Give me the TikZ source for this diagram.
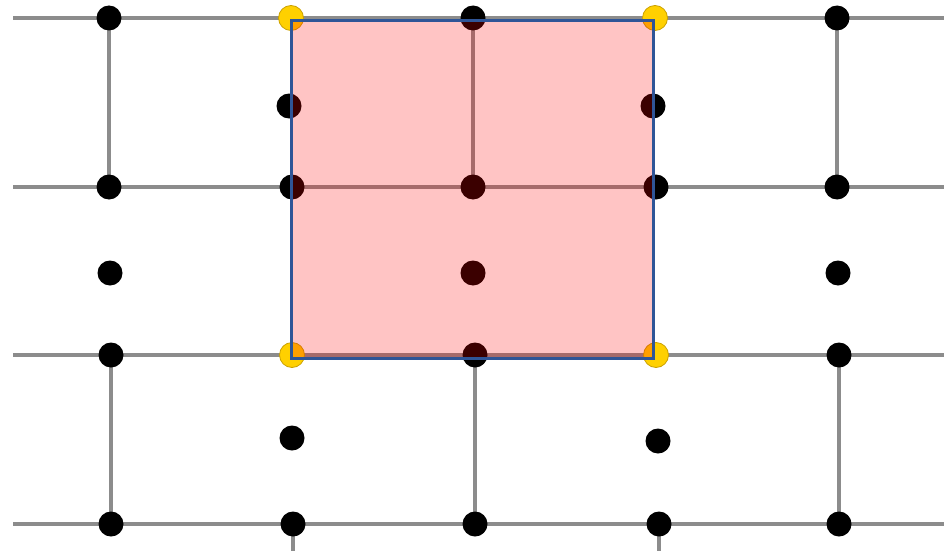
\documentclass[tikz,border=0pt]{standalone}
\usetikzlibrary{backgrounds}
\definecolor{wire}{HTML}{8C8C8C}
\definecolor{gold}{HTML}{FFD000}
\definecolor{goldedge}{HTML}{C9A000}
\definecolor{frame}{HTML}{2F5597}
\tikzset{
  blackdot/.style={circle,fill=black,inner sep=0pt,minimum size=25pt},
  golddot/.style={circle,fill=gold,draw=goldedge,line width=0.8pt,inner sep=0pt,minimum size=25pt},
  wireline/.style={draw=wire,line width=3.2pt},
}
\begin{document}
\begin{tikzpicture}[x=1pt,y=-1pt]
\useasboundingbox (0,0) rectangle (944,551);
% row 1
\node[blackdot] (a1) at (109,18) {};
\node[golddot]  (a2) at (291,18) {};
\node[blackdot] (a3) at (473,18) {};
\node[golddot]  (a4) at (655,18) {};
\node[blackdot] (a5) at (837,18) {};
% row 2
\node[blackdot] (b2) at (289,106) {};
\node[blackdot] (b4) at (653,106) {};
% row 3
\node[blackdot] (c1) at (109,187) {};
\node[blackdot] (c2) at (292,187) {};
\node[blackdot] (c3) at (473,187) {};
\node[blackdot] (c4) at (656,187) {};
\node[blackdot] (c5) at (837,187) {};
% row 4
\node[blackdot] (d1) at (110,273) {};
\node[blackdot] (d3) at (473,273) {};
\node[blackdot] (d5) at (838,273) {};
% row 5
\node[blackdot] (e1) at (111,355) {};
\node[golddot]  (e2) at (292,355) {};
\node[blackdot] (e3) at (475,355) {};
\node[golddot]  (e4) at (656,355) {};
\node[blackdot] (e5) at (839,355) {};
% row 6
\node[blackdot] (f2) at (292,438) {};
\node[blackdot] (f4) at (658,441) {};
% row 7
\node[blackdot] (g1) at (111,524) {};
\node[blackdot] (g2) at (293,524) {};
\node[blackdot] (g3) at (475,524) {};
\node[blackdot] (g4) at (659,524) {};
\node[blackdot] (g5) at (839,524) {};
% free ends
\coordinate (l1) at (13,18);   \coordinate (r1) at (944,18);
\coordinate (l3) at (13,187);  \coordinate (r3) at (944,187);
\coordinate (l5) at (13,355);  \coordinate (r5) at (944,355);
\coordinate (l7) at (13,524);  \coordinate (r7) at (944,524);
\coordinate (s2) at (293,551); \coordinate (s4) at (659,551);
\begin{scope}[on background layer]
  \draw[wireline] (l1) -- (a1.center) -- (a2.center) -- (a3.center) -- (a4.center) -- (a5.center) -- (r1);
  \draw[wireline] (l3) -- (c1.center) -- (c2.center) -- (c3.center) -- (c4.center) -- (c5.center) -- (r3);
  \draw[wireline] (l5) -- (e1.center) -- (e2.center) -- (e3.center) -- (e4.center) -- (e5.center) -- (r5);
  \draw[wireline] (l7) -- (g1.center) -- (g2.center) -- (g3.center) -- (g4.center) -- (g5.center) -- (r7);
  \draw[wireline] (a1.center) -- (c1.center);
  \draw[wireline] (a3.center) -- (c3.center);
  \draw[wireline] (a5.center) -- (c5.center);
  \draw[wireline] (e1.center) -- (g1.center);
  \draw[wireline] (e3.center) -- (g3.center);
  \draw[wireline] (e5.center) -- (g5.center);
  \draw[wireline] (g2.center) -- (s2);
  \draw[wireline] (g4.center) -- (s4);
\end{scope}
% highlighted square
\fill[red,fill opacity=0.23] (291,21) rectangle (653,358);
\draw[frame,line width=3pt] (291,21) rectangle (653,358);
\end{tikzpicture}
\end{document}
